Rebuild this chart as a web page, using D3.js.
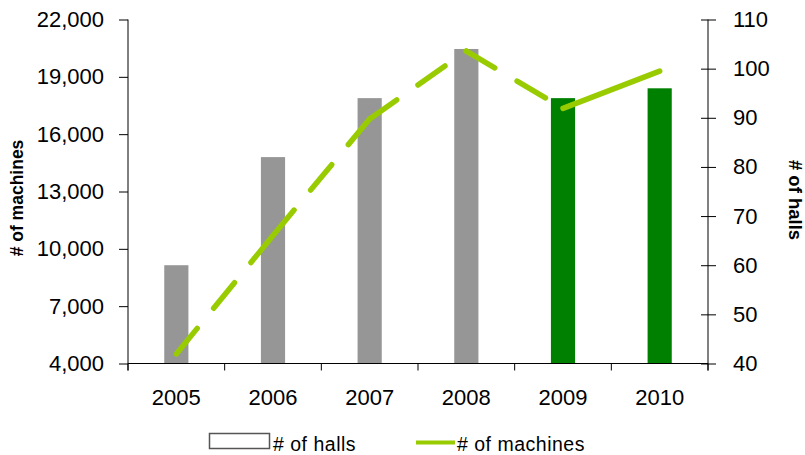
<!DOCTYPE html>
<html>
<head>
<meta charset="utf-8">
<script src="https://cdn.jsdelivr.net/npm/d3@7"></script>
<style>
  html, body { margin: 0; padding: 0; background: #fff; }
  svg { display: block; font-family: "Liberation Sans", Arial, sans-serif; }
</style>
</head>
<body>
<svg id="chart" width="805" height="455"></svg>
<script>
// Chart data
const years = ["2005", "2006", "2007", "2008", "2009", "2010"];
const halls = [60, 82, 94, 104, 94, 96];                        // bars, right axis
const machines = [4500, 10700, 16800, 20350, 17350, 19300];      // line, left axis
const machineTicks = [4000, 7000, 10000, 13000, 16000, 19000, 22000];
const hallTicks = [40, 50, 60, 70, 80, 90, 100, 110];
const barColors = ["#969696", "#969696", "#969696", "#969696", "#008000", "#008000"];
const solidFrom = 4; // segments starting at this index are drawn solid

const svg = d3.select("#chart");
const plot = { left: 128, right: 708, top: 19.5, bottom: 363.5 };

const x = d3.scaleBand().domain(years)
  .range([plot.left, plot.right]).paddingInner(0.75).paddingOuter(0.375);
const yL = d3.scaleLinear().domain([4000, 22000]).range([plot.bottom, plot.top]);
const yR = d3.scaleLinear().domain([40, 110]).range([plot.bottom, plot.top]);

// Bars (# of halls)
svg.append("g").selectAll("rect").data(years).join("rect")
  .attr("x", d => x(d))
  .attr("y", (d, i) => yR(halls[i]))
  .attr("width", x.bandwidth())
  .attr("height", (d, i) => plot.bottom - yR(halls[i]))
  .attr("fill", (d, i) => barColors[i]);

// Line (# of machines): each segment carries its own dash pattern
const pts = years.map((d, i) => [x(d) + x.bandwidth() / 2, yL(machines[i])]);
const lineGen = d3.line();
const segs = d3.range(pts.length - 1).map(i => ({ i, p: [pts[i], pts[i + 1]] }));
svg.append("g").selectAll("path").data(segs).join("path")
  .attr("d", s => lineGen(s.p))
  .attr("fill", "none")
  .attr("stroke", "#99cc00")
  .attr("stroke-width", 5.5)
  .attr("stroke-linecap", "round")
  .attr("stroke-linejoin", "round")
  .attr("stroke-dasharray", s => s.i >= solidFrom ? null : "33,26");

// Left axis
const gL = svg.append("g").attr("transform", `translate(${plot.left},0)`)
  .call(d3.axisLeft(yL).tickValues(machineTicks).tickFormat(d3.format(","))
    .tickSize(9).tickPadding(15).tickSizeOuter(0));
gL.select(".domain").remove();
gL.append("line").attr("x1", 0).attr("x2", 0)
  .attr("y1", plot.top).attr("y2", plot.bottom + 7).attr("stroke", "#000");

// Right axis
const gR = svg.append("g").attr("transform", `translate(${plot.right},0)`)
  .call(d3.axisRight(yR).tickValues(hallTicks).tickSize(8).tickPadding(17).tickSizeOuter(0));
gR.select(".domain").remove();
gR.selectAll(".tick line").attr("x1", -7);
gR.append("line").attr("x1", 0).attr("x2", 0)
  .attr("y1", plot.top).attr("y2", plot.bottom + 7).attr("stroke", "#000");

// Bottom axis: boundary ticks plus centred year labels
const gB = svg.append("g").attr("transform", `translate(0,${plot.bottom})`)
  .call(d3.axisBottom(x).tickSize(0).tickPadding(26).tickSizeOuter(0));
gB.select(".domain").remove();
gB.append("line").attr("x1", plot.left).attr("x2", plot.right)
  .attr("y1", 0).attr("y2", 0).attr("stroke", "#000");
const bounds = d3.range(years.length + 1).map(k => plot.left + k * (plot.right - plot.left) / years.length);
gB.selectAll(".bound").data(bounds).join("line").attr("class", "bound")
  .attr("x1", d => d).attr("x2", d => d).attr("y1", 0).attr("y2", 7).attr("stroke", "#000");

[gL, gR, gB].forEach(g => {
  g.selectAll(".tick line").attr("stroke", "#000");
  g.selectAll(".tick text").attr("fill", "#000")
    .style("font-size", "22px").style("font-family", "'Liberation Sans', Arial, sans-serif");
});

// Axis titles
svg.append("text")
  .attr("transform", "translate(23,198) rotate(-90)")
  .attr("text-anchor", "middle")
  .style("font-size", "17.5px").style("font-weight", "bold")
  .text("# of machines");
svg.append("text")
  .attr("transform", "translate(789,200) rotate(90)")
  .attr("text-anchor", "middle")
  .style("font-size", "18.5px").style("font-weight", "bold")
  .text("# of halls");

// Legend
const lg = svg.append("g");
lg.append("rect").attr("x", 209.5).attr("y", 433.5).attr("width", 60).attr("height", 15)
  .attr("fill", "#fff").attr("stroke", "#555").attr("stroke-width", 1.5);
lg.append("text").attr("x", 273).attr("y", 451)
  .style("font-size", "19.5px").style("letter-spacing", "0.5px").text("# of halls");
lg.append("line").attr("x1", 416).attr("x2", 455).attr("y1", 442.5).attr("y2", 442.5)
  .attr("stroke", "#99cc00").attr("stroke-width", 4);
lg.append("text").attr("x", 457).attr("y", 451)
  .style("font-size", "19.5px").style("letter-spacing", "0.5px").text("# of machines");
</script>
</body>
</html>
